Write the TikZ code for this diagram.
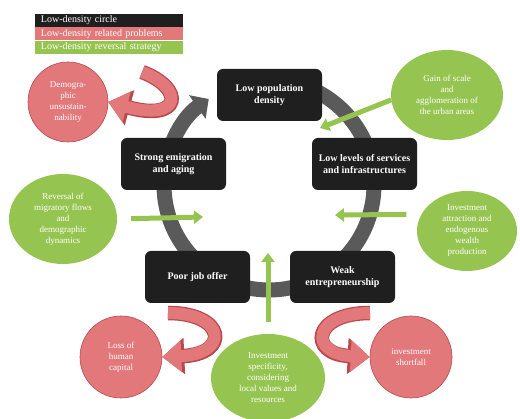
\documentclass[tikz,border=0pt]{standalone}
\usepackage{fontspec}
\setmainfont{Liberation Serif}
\usetikzlibrary{positioning,arrows.meta,shapes.geometric}
\definecolor{boxblack}{HTML}{1F1F1F}
\definecolor{ringgray}{HTML}{5A5A5A}
\definecolor{stratgreen}{HTML}{95C550}
\definecolor{probred}{HTML}{E3787A}
\definecolor{probdark}{HTML}{B9494C}
\begin{document}
\begin{tikzpicture}[x=1pt,y=1pt,
    legendbar/.style={minimum width=148,minimum height=13,inner sep=0,
      text width=136,align=left,text=white,font=\fontsize{10}{10}\selectfont},
    circlebox/.style={fill=boxblack,rounded corners=6,minimum width=105,
      minimum height=52,inner sep=2,align=center,text=white,
      font=\fontsize{10}{12}\selectfont\bfseries},
    strategy/.style={ellipse,fill=stratgreen,inner sep=0,align=center,
      text=white,font=\fontsize{9}{11}\selectfont},
    problem/.style={circle,fill=probred,draw=probdark,line width=.6,
      minimum size=80,inner sep=0,align=center,text=white,
      font=\fontsize{9}{11}\selectfont},
    greenarrow/.style={draw=stratgreen,line width=5,
      -{Triangle[width=13pt,length=9pt]}},
    ribbon/.style={draw=probred,line width=12,
      -{Triangle[width=31pt,length=19pt]},
      preaction={draw=probdark,line width=14.5,
        -{Triangle[width=35pt,length=22pt]}}}]
  \useasboundingbox[fill=white] (0,0) rectangle (520,-419);

  % legend
  \node[legendbar,fill=boxblack] (leg1) at (109,-20.5) {Low-density circle};
  \node[legendbar,fill=probred,below=0pt of leg1] (leg2) {Low-density related problems};
  \node[legendbar,fill=stratgreen,below=0pt of leg2] (leg3) {Low-density reversal strategy};

  % the circle
  \draw[ringgray,line width=15,-{Triangle[width=28pt,length=14pt]}]
    (269,-185) ++(90:105) arc[start angle=90,end angle=-235,radius=105];

  \node[circlebox] (density) at (269.5,-95) {Low population\\density};
  \node[circlebox] (services) at (364.5,-164) {Low levels of services\\and infrastructures};
  \node[circlebox] (emigration) at (173.5,-164) {Strong emigration\\and aging};
  \node[circlebox] (joboffer) at (197.5,-277) {Poor job offer};
  \node[circlebox] (entrepr) at (342.5,-277) {Weak\\entrepreneurship};

  % strategies
  \node[strategy,minimum width=112,minimum height=90] (gain) at (447,-95)
    {Gain of scale\\and\\agglomeration of\\the urban areas};
  \node[strategy,minimum width=100,minimum height=80] (attract) at (467,-231)
    {Investment\\attraction and\\endogenous\\wealth\\production};
  \node[strategy,minimum width=108,minimum height=90] (reversal) at (63,-219)
    {Reversal of\\migratory flows\\and\\demographic\\dynamics};
  \node[strategy,minimum width=114,minimum height=88] (specific) at (268,-378)
    {Investment\\specificity,\\considering\\local values and\\resources};

  \coordinate (gainend) at (320,-128);
  \coordinate (attractend) at (335,-215);
  \coordinate (reversalend) at (203,-217);
  \coordinate (specificend) at (268,-253);
  \draw[greenarrow] (gain.185) -- (gainend);
  \draw[greenarrow,shorten <=15pt] (attract.160) -- (attractend);
  \draw[greenarrow,shorten <=14pt] (reversal.east) -- (reversalend);
  \draw[greenarrow,shorten <=12pt] (specific.north) -- (specificend);

  % problems
  \node[problem] (unsust) at (68,-102) {Demogra-\\phic\\unsustain-\\nability};
  \node[problem,minimum size=82] (loss) at (121,-357) {Loss of\\human\\capital};
  \node[problem,minimum size=82] (shortfall) at (411,-357) {investment\\shortfall};

  \draw[ribbon] (142,-72) .. controls (185,-88) and (182,-122) .. (unsust.east);
  \draw[ribbon] (168,-313) .. controls (226,-313) and (230,-354) .. (loss.east);
  \draw[ribbon] (370,-313) .. controls (312,-313) and (308,-354) .. (shortfall.west);
\end{tikzpicture}
\end{document}
